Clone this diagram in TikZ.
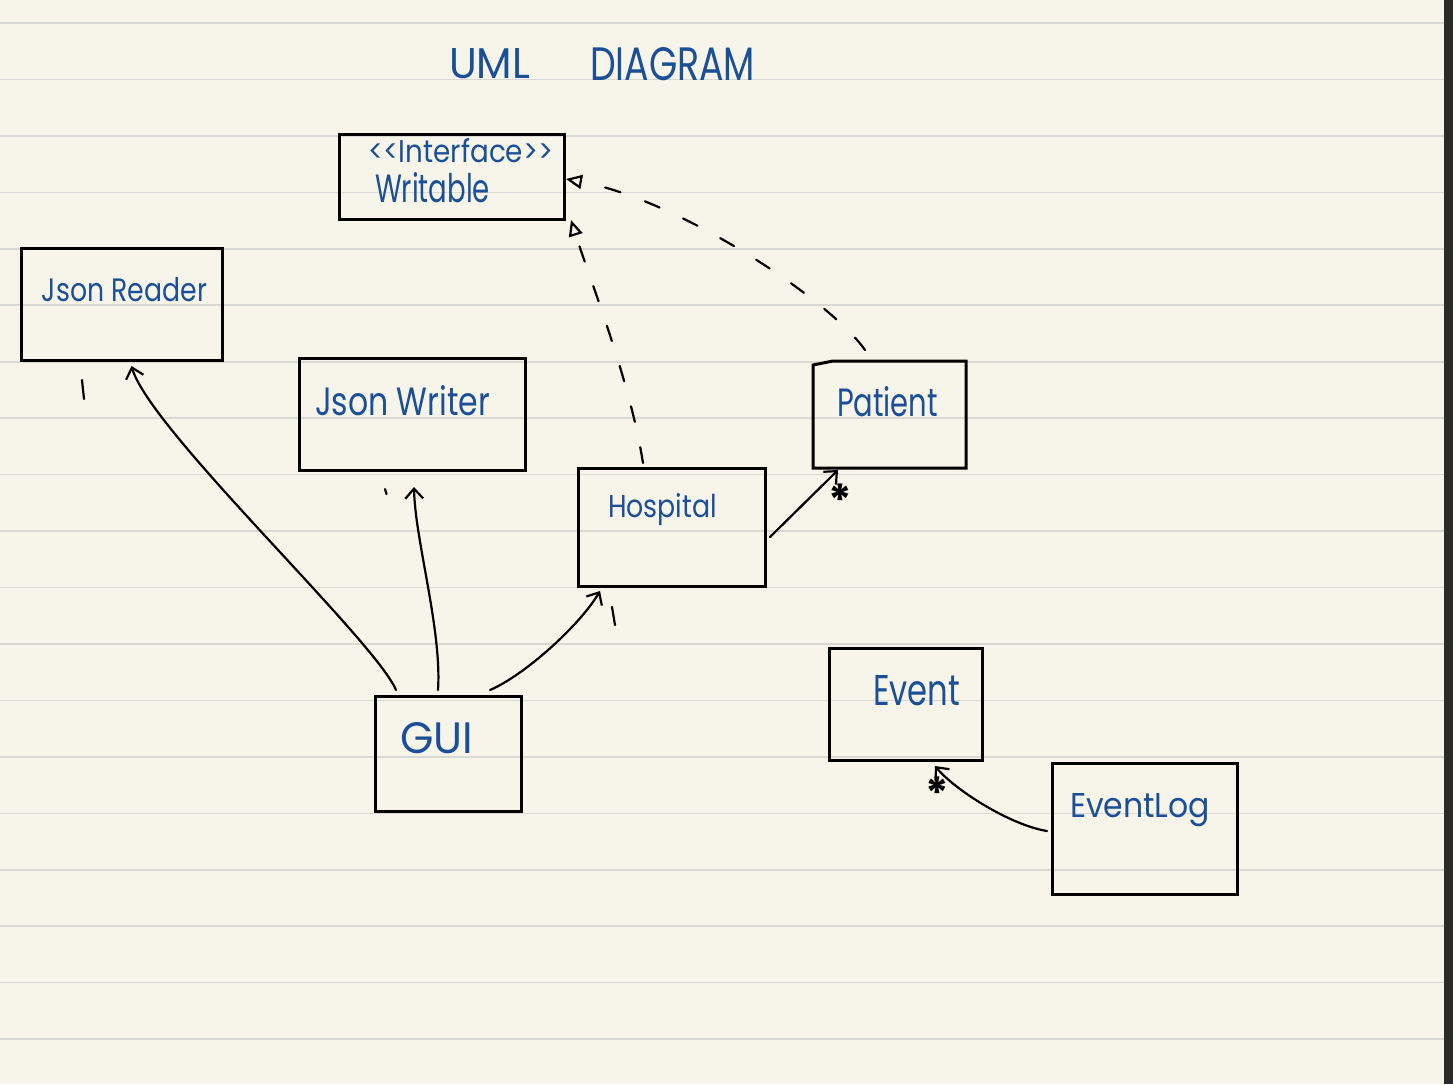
\documentclass[tikz,border=0pt]{standalone}
\usepackage{fontspec}
\setmainfont{Poppins}
\usetikzlibrary{arrows.meta}
\definecolor{paper}{HTML}{F7F5EA}
\definecolor{ruleln}{HTML}{D8D8D4}
\definecolor{ink}{HTML}{1B4F97}
\definecolor{edgestrip}{HTML}{2A2A2C}
\newcommand\fittext[3]{\resizebox{#1}{#2}{#3}}
\begin{document}
\begin{tikzpicture}[x=0.5pt,y=-0.5pt,
  umlbox/.style={draw=black,line width=1.5pt,inner sep=0pt,outer sep=0pt,fill=none},
  lbl/.style={text=ink,inner sep=0pt,outer sep=0pt,anchor=base west},
  conn/.style={draw=black,line width=1.1pt,line cap=round,-{Straight Barb[length=5pt,width=9pt,line width=1.1pt]}},
  realize/.style={draw=black,line width=1.1pt,line cap=round,dash pattern=on 8pt off 13pt,-{Triangle[open,length=8pt,width=7pt,line width=1.1pt,fill=paper]}},
  mult/.style={text=black,inner sep=0pt,font=\fontsize{22}{22}\selectfont\bfseries},
  tick/.style={draw=black,line width=1.1pt,line cap=round}]
% paper
\fill[paper] (0,0) rectangle (1453,1084);
\useasboundingbox (0,0) rectangle (1453,1084);
\foreach \k in {0,...,18}{
  \draw[ruleln,line width=0.8pt] (0,{23+56.45*\k}) -- (1444,{23+56.45*\k});
}
\fill[edgestrip] (1444,0) rectangle (1453,1084);

% title
\node[lbl] (tuml) at (449,78) {\fittext{40.5pt}{15pt}{UML}};
\node[lbl] (tdiag) at (590,80) {\fittext{82.5pt}{16.5pt}{DIAGRAM}};

% boxes
\node[umlbox,minimum width=112.5pt,minimum height=42.5pt] (writable) at (451.5,176.5) {};
\node[umlbox,minimum width=100.5pt,minimum height=56pt] (jreader) at (121.5,304) {};
\node[umlbox,minimum width=113pt,minimum height=56pt] (jwriter) at (412,414) {};
\node[umlbox,minimum width=93.5pt,minimum height=59pt] (hospital) at (671.5,527) {};
\node[inner sep=0pt,outer sep=0pt,minimum width=76.5pt,minimum height=53.5pt] (patient) at (889.5,414.5) {};
\draw[line width=1.5pt] (patient.south west) -- ([shift={(0,4)}]patient.north west) -- ([shift={(20,0)}]patient.north west) -- (patient.north east) -- (patient.south east) -- cycle;
\node[umlbox,minimum width=73pt,minimum height=57.5pt] (gui) at (448,753.5) {};
\node[umlbox,minimum width=76.5pt,minimum height=56pt] (event) at (905.5,704) {};
\node[umlbox,minimum width=92.5pt,minimum height=65.5pt] (eventlog) at (1144.5,828.5) {};

% labels
\node[lbl] (tinterface) at (368,162) {\fittext{92.5pt}{12pt}{{<}{<}Interface{>}{>}}};
\node[lbl] (twritable) at (375,202) {\fittext{57.5pt}{15pt}{Writable}};
\node[lbl] (tjreader) at (42,301) {\fittext{82.5pt}{12pt}{Json Reader}};
\node[lbl] (tjwriter) at (315,415) {\fittext{87.5pt}{15pt}{Json Writer}};
\node[lbl] (thospital) at (608,517) {\fittext{54.5pt}{12pt}{Hospital}};
\node[lbl] (tpatient) at (837,416) {\fittext{50.5pt}{15pt}{Patient}};
\node[lbl] (tgui) at (400,753) {\fittext{36.5pt}{15.5pt}{GUI}};
\node[lbl] (tevent) at (873,705) {\fittext{43.5pt}{15pt}{Event}};
\node[lbl] (teventlog) at (1070,817) {\fittext{70pt}{12pt}{EventLog}};

% realization (dashed) arrows
\draw[realize] ([shift={(-28.5,-5)}]hospital.north) .. controls (630,380) and (590,280) .. ([shift={(7,1)}]writable.south east);
\draw[realize] ([shift={(-24.5,-11)}]patient.north) .. controls (830,300) and (680,200) .. ([shift={(2,2.5)}]writable.east);

% associations
\draw[conn] ([shift={(-52,-6)}]gui.north) .. controls (375,640) and (150,430) .. ([shift={(10,6)}]jreader.south);
\draw[conn] ([shift={(-10,-6)}]gui.north) .. controls (442,630) and (415,540) .. ([shift={(2,17)}]jwriter.south);
\draw[conn] ([shift={(42,-6)}]gui.north) .. controls (525,675) and (580,625) .. ([shift={(-71.5,5)}]hospital.south);
\draw[conn] ([shift={(5,10)}]hospital.east) -- ([shift={(-51.5,2)}]patient.south);
\draw[conn] ([shift={(-5,2.5)}]eventlog.west) .. controls (1010,825) and (955,790) .. ([shift={(29.5,6)}]event.south);

% multiplicities
\node[mult] (m1) at (840,500) {*};
\node[mult] (m2) at (937,793) {*};
\draw[tick] (82,380) -- (84,399);
\draw[tick] (385,489) -- (386.5,494);
\draw[tick] (612,607) -- (615,625);
\end{tikzpicture}
\end{document}
